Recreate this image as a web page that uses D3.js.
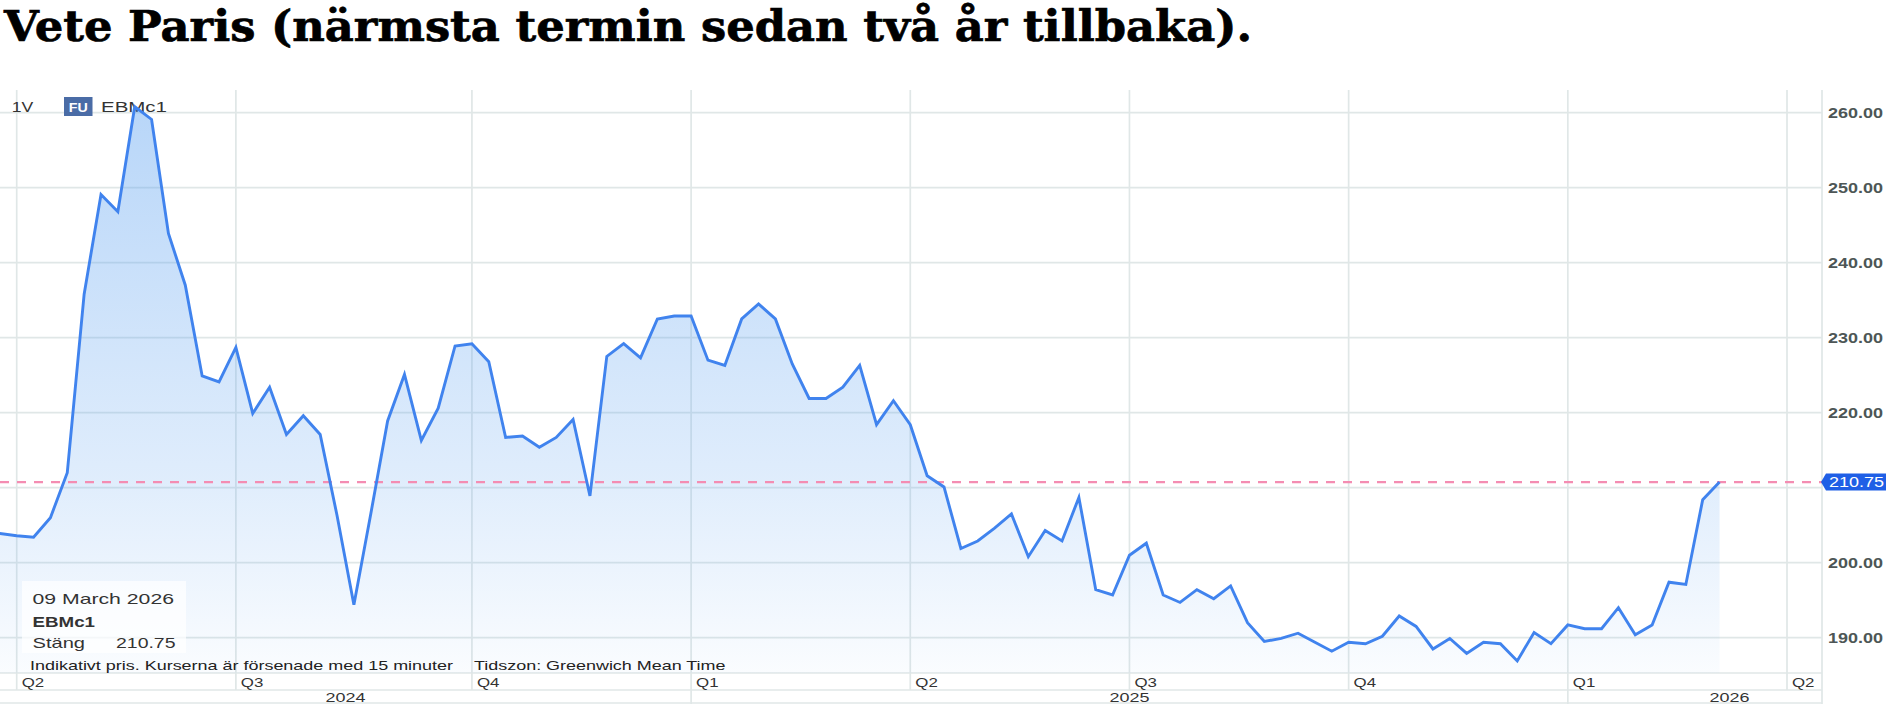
<!DOCTYPE html>
<html><head><meta charset="utf-8">
<script src="https://cdn.jsdelivr.net/npm/d3@7"></script>
<style>html,body{margin:0;padding:0;background:#fff;overflow:hidden}</style>
</head><body>
<svg id="c" width="1891" height="706"></svg>
<script>
// ---------------- data ----------------
const title = "Vete Paris (närmsta termin sedan två år tillbaka).";
const symbol = "EBMc1";
const period = "1V";
const firstWeek = "2024-03-25";           // weekly closes, Mondays
const closes = [
  203.9, 203.6, 203.4, 206.0, 212.0, 235.8, 249.1, 246.8, 260.8, 259.1,
  243.9, 237.0, 224.9, 224.1, 228.7, 219.9, 223.4, 217.1, 219.6, 217.1,
  206.3, 194.4, 206.5, 218.9, 225.1, 216.3, 220.6, 228.9, 229.2, 226.8,
  216.7, 216.9, 215.4, 216.7, 219.1, 208.9, 227.5, 229.2, 227.3, 232.5,
  232.9, 232.9, 227.0, 226.3, 232.5, 234.5, 232.5, 226.5, 221.9, 221.9,
  223.4, 226.3, 218.4, 221.6, 218.4, 211.6, 210.1, 201.9, 202.9, 204.6,
  206.5, 200.8, 204.3, 202.9, 208.7, 196.4, 195.7, 201.0, 202.6, 195.7,
  194.7, 196.4, 195.2, 196.9, 192.0, 189.5, 189.9, 190.6, 189.4, 188.2,
  189.4, 189.2, 190.2, 192.9, 191.5, 188.5, 189.9, 187.9, 189.4, 189.2,
  186.9, 190.7, 189.2, 191.7, 191.2, 191.2, 194.0, 190.4, 191.7, 197.4,
  197.1, 208.4, 210.75
];
const lastClose = 210.75;
const yTicks = [190, 200, 210, 220, 230, 240, 250, 260];
const quarterStarts = ["2024-04-01","2024-07-01","2024-10-01","2025-01-01","2025-04-01","2025-07-01","2025-10-01","2026-01-01","2026-04-01"];
const quarterLabels = ["Q2","Q3","Q4","Q1","Q2","Q3","Q4","Q1","Q2"];
const years = ["2024","2025","2026"];
const closeLabel = "Stäng";
const footLeft = "Indikativt pris. Kurserna är försenade med 15 minuter";
const footRight = "Tidszon: Greenwich Mean Time";

// ---------------- layout ----------------
const W = 1891, H = 706;
const P = {left: 0, right: 1822, top: 90, bottom: 673, qRow: 690, yRow: 704};
const UI = "'Liberation Sans', Arial, sans-serif";
const gridC = "#e0e7e7";

const parse = d3.timeParse("%Y-%m-%d");
const start = parse(firstWeek);
const weekIdx = d => d3.timeMonday.count(start, d3.timeMonday.ceil(d));

const x = d3.scaleLinear().domain([1, 106]).range([16.7, 1787]);
const y = d3.scaleLinear().domain([190, 260]).range([637.7, 112.7]);

const svg = d3.select("#c");
const defs = svg.append("defs");
defs.append("clipPath").attr("id", "plotClip").append("rect")
  .attr("x", P.left).attr("y", P.top).attr("width", P.right - P.left).attr("height", P.bottom - P.top);
const g = defs.append("linearGradient").attr("id", "fillGrad")
  .attr("gradientUnits", "userSpaceOnUse").attr("x1", 0).attr("x2", 0).attr("y1", 105).attr("y2", P.bottom);
[[0, 0.43], [0.66, 0.19], [1, 0.03]].forEach(([o, a]) =>
  g.append("stop").attr("offset", o).attr("stop-color", "rgb(90,160,240)").attr("stop-opacity", a));

function txt(sel, s, o) {
  const t = sel.append("text").text(s)
    .attr("x", o.x).attr("y", o.y)
    .attr("font-family", o.family || UI).attr("font-size", o.size)
    .attr("font-weight", o.weight || "normal").attr("fill", o.fill || "#333")
    .attr("text-anchor", o.anchor || "start");
  if (o.w) t.attr("textLength", o.w).attr("lengthAdjust", "spacingAndGlyphs");
  return t;
}

// title
txt(svg, title, {x: 4, y: 40.5, size: 43, weight: "bold", family: "'DejaVu Serif', serif", fill: "#000", w: 1248})
  .attr("stroke", "#000").attr("stroke-width", 0.7);

// horizontal grid
svg.append("g").selectAll("line").data(yTicks).join("line")
  .attr("x1", P.left).attr("x2", P.right).attr("y1", d => y(d)).attr("y2", d => y(d))
  .attr("stroke", gridC).attr("stroke-width", 1.7);

// quarter grid
const qIdx = quarterStarts.map(s => weekIdx(parse(s)));
svg.append("g").selectAll("line").data(qIdx).join("line")
  .attr("x1", d => x(d)).attr("x2", d => x(d)).attr("y1", P.top).attr("y2", P.qRow)
  .attr("stroke", gridC).attr("stroke-width", 1.7);

// axis rows lines
[P.bottom, P.qRow, P.yRow - 1].forEach(yy =>
  svg.append("line").attr("x1", 0).attr("x2", P.right).attr("y1", yy).attr("y2", yy)
    .attr("stroke", gridC).attr("stroke-width", 1.7));
svg.append("line").attr("x1", P.right).attr("x2", P.right).attr("y1", P.top).attr("y2", P.yRow)
  .attr("stroke", gridC).attr("stroke-width", 1.7);

// year separators + labels
const yearStartIdx = years.map(yy => weekIdx(parse(yy + "-01-01")));
const yearEndIdx = years.map(yy => weekIdx(parse((+yy + 1) + "-01-01")));
yearStartIdx.forEach(i => {
  const xx = x(i);
  if (xx > 0) svg.append("line").attr("x1", xx).attr("x2", xx).attr("y1", P.qRow).attr("y2", P.yRow)
    .attr("stroke", gridC).attr("stroke-width", 1.7);
});
years.forEach((yy, k) => {
  const a = Math.max(0, x(yearStartIdx[k])), b = Math.min(W, x(yearEndIdx[k]));
  txt(svg, yy, {x: (a + b) / 2, y: 702, size: 13, anchor: "middle", w: 40});
});
quarterLabels.forEach((q, k) => txt(svg, q, {x: x(qIdx[k]) + 5, y: 686.5, size: 13, w: 22.5}));

// legend top-left
txt(svg, period, {x: 11.7, y: 111.7, size: 14, w: 21.5});
svg.append("rect").attr("x", 64).attr("y", 97).attr("width", 28.5).attr("height", 19).attr("fill", "#4a6ca6");
txt(svg, "FU", {x: 78.2, y: 111.5, size: 12, weight: "bold", fill: "#fff", anchor: "middle", w: 19});
txt(svg, symbol, {x: 101, y: 111.7, size: 14, w: 66});

// area + line
const pts = closes.map((v, i) => ({i, v}));
const plotG = svg.append("g").attr("clip-path", "url(#plotClip)");
plotG.append("path").datum(pts)
  .attr("d", d3.area().x(d => x(d.i)).y0(P.bottom).y1(d => y(d.v)))
  .attr("fill", "url(#fillGrad)");
plotG.append("line").attr("x1", P.left).attr("x2", P.right).attr("y1", y(lastClose)).attr("y2", y(lastClose))
  .attr("stroke", "#f48db2").attr("stroke-width", 2.4).attr("stroke-dasharray", "9,8");
plotG.append("path").datum(pts)
  .attr("d", d3.line().x(d => x(d.i)).y(d => y(d.v)))
  .attr("fill", "none").attr("stroke", "#4083ee").attr("stroke-width", 2.9).attr("stroke-linejoin", "miter");

// y axis labels
const fmt = d3.format(".2f");
yTicks.filter(t => t !== 210).forEach(t =>
  txt(svg, fmt(t), {x: 1828, y: y(t) + 5, size: 14, weight: "bold", fill: "#4d5656", w: 55}));
const ly = y(lastClose);
svg.append("path").attr("d", `M1821,${ly} L1826,${ly - 8.5} L1886,${ly - 8.5} L1886,${ly + 8.5} L1826,${ly + 8.5} Z`)
  .attr("fill", "#1f5fe6");
txt(svg, fmt(lastClose), {x: 1829, y: ly + 5, size: 14, fill: "#fff", w: 55});

// tooltip box
const lastDate = d3.timeMonday.offset(start, closes.length - 1);
svg.append("rect").attr("x", 22).attr("y", 581).attr("width", 164).attr("height", 72)
  .attr("fill", "rgba(255,255,255,0.72)");
txt(svg, d3.timeFormat("%d %B %Y")(lastDate), {x: 32.5, y: 603.8, size: 15, w: 141.5});
txt(svg, symbol, {x: 32.5, y: 627, size: 15, weight: "bold", w: 62.5});
txt(svg, closeLabel, {x: 32.5, y: 647.5, size: 15, w: 52.5});
txt(svg, fmt(closes[closes.length - 1]), {x: 116, y: 647.5, size: 15, w: 59.5});

// footnote
txt(svg, footLeft, {x: 30, y: 669.5, size: 13, fill: "#222", w: 423});
txt(svg, footRight, {x: 474, y: 669.5, size: 13, fill: "#222", w: 251.5});
</script>
</body></html>
